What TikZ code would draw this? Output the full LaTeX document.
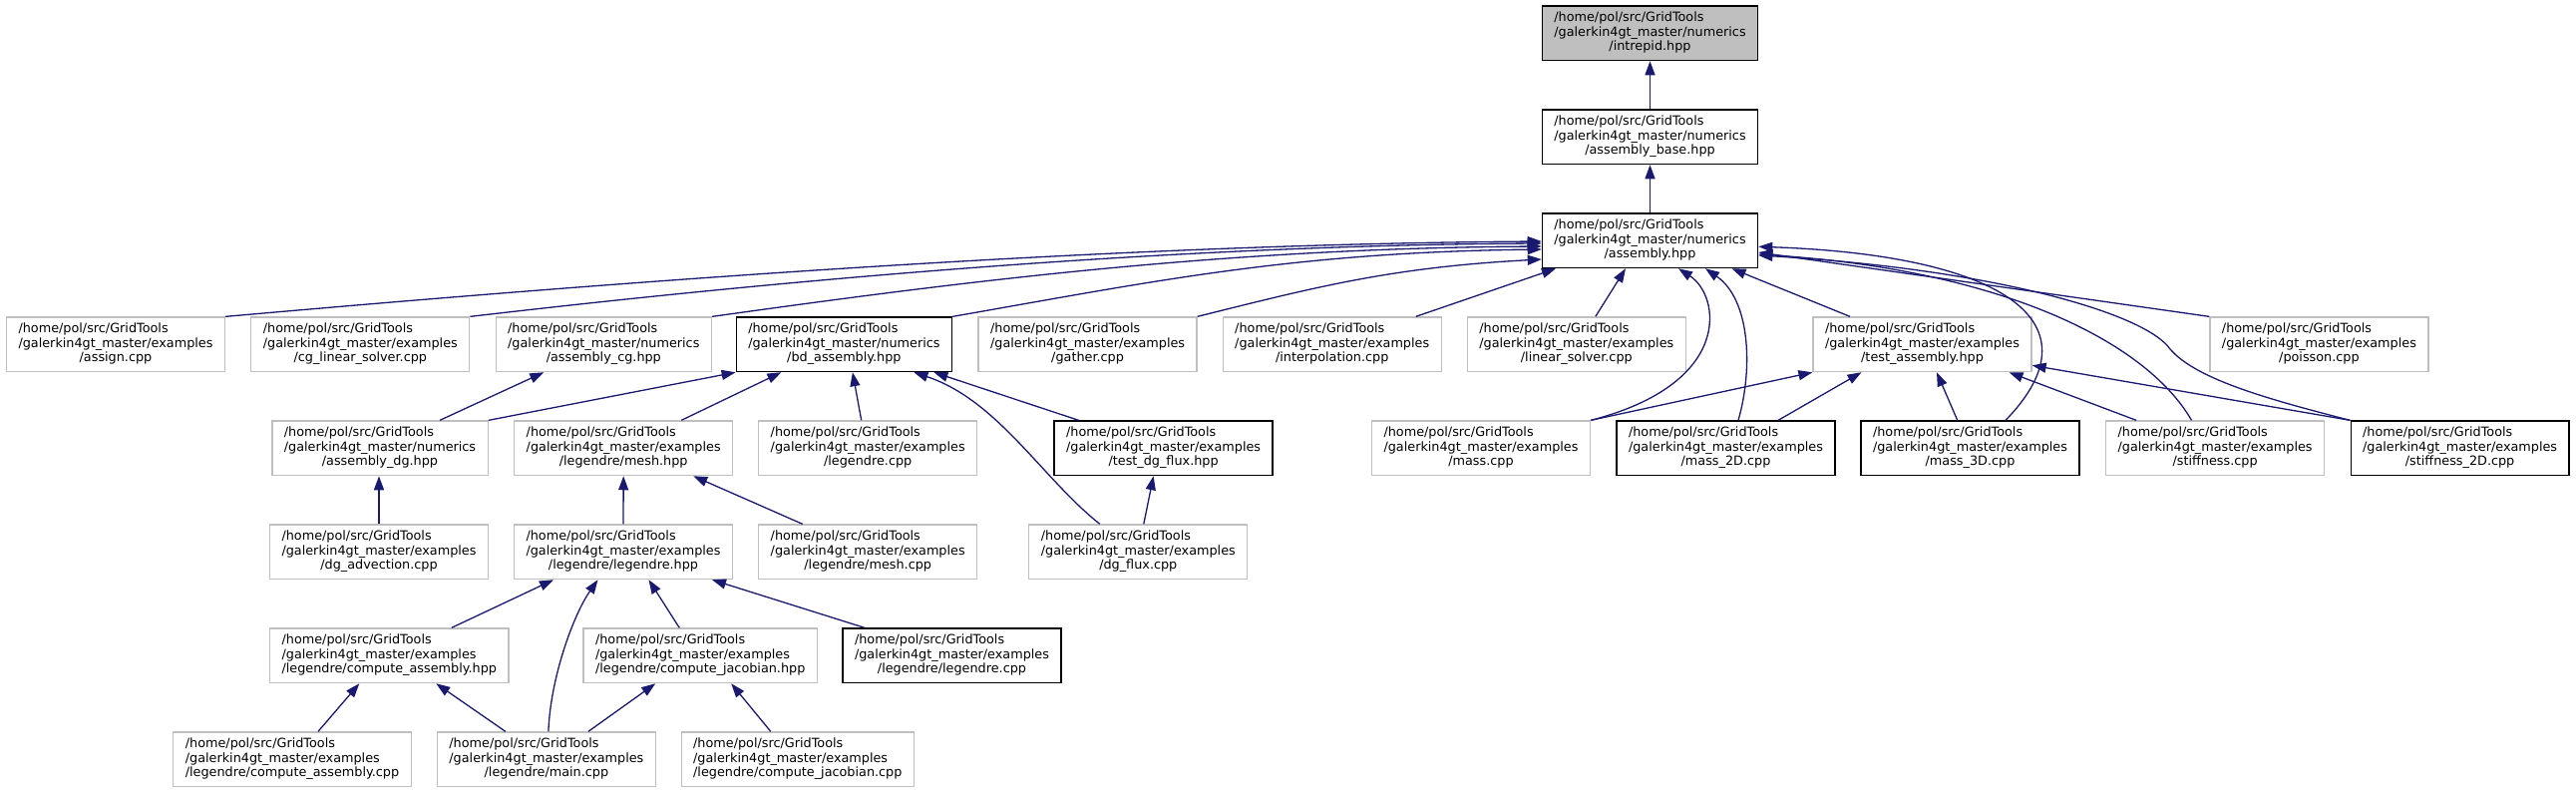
\documentclass[tikz,border=0pt]{standalone}
\usepackage{fontspec}
\setmainfont{DejaVu Sans}
\usepackage{tikz}
\usetikzlibrary{arrows.meta}
\definecolor{depblue}{RGB}{25, 25, 112}
\definecolor{filegray}{RGB}{191, 191, 191}

\newcommand{\filelabel}[2]{\begin{tabular}{@{}l@{}}/home/pol/src/GridTools\\/galerkin4gt\_master/#1\\\multicolumn{1}{@{}c@{}}{/#2}\end{tabular}}

\tikzset{
  file/.style={draw=filegray, line width=1.3pt, fill=white, inner xsep=12pt, inner ysep=0pt,
    minimum height=54.6pt, font=\fontsize{12.8pt}{14.5pt}\selectfont},
  docfile/.style={file, draw=black},
  rootfile/.style={docfile, fill=filegray},
  dep/.style={draw=depblue, line width=1.3pt, -{Triangle[length=14pt,width=10pt]}},
}

\begin{document}
\begin{tikzpicture}[x=1pt, y=-1pt]
  \useasboundingbox (0,0) rectangle (2583,795);
  % top chain
  \node[rootfile] (intrepid) at (1654.5,33.3) {\filelabel{numerics}{intrepid.hpp}};
  \node[docfile] (asmbase) at (1654.5,137.3) {\filelabel{numerics}{assembly\_base.hpp}};
  \node[docfile] (asm) at (1654.5,241.3) {\filelabel{numerics}{assembly.hpp}};
  % row 3
  \node[file] (assign) at (116,345.3) {\filelabel{examples}{assign.cpp}};
  \node[file] (cgls) at (361.3,345.3) {\filelabel{examples}{cg\_linear\_solver.cpp}};
  \node[file] (asmcg) at (605.3,345.3) {\filelabel{numerics}{assembly\_cg.hpp}};
  \node[docfile] (bdasm) at (846.4,345.3) {\filelabel{numerics}{bd\_assembly.hpp}};
  \node[file] (gather) at (1090.6,345.3) {\filelabel{examples}{gather.cpp}};
  \node[file] (interp) at (1335.7,345.3) {\filelabel{examples}{interpolation.cpp}};
  \node[file] (linsolv) at (1580.8,345.3) {\filelabel{examples}{linear\_solver.cpp}};
  \node[file] (testasm) at (1927.5,345.3) {\filelabel{examples}{test\_assembly.hpp}};
  \node[file] (poisson) at (2325.4,345.3) {\filelabel{examples}{poisson.cpp}};
  % row 4
  \node[file] (asmdg) at (381,449.3) {\filelabel{numerics}{assembly\_dg.hpp}};
  \node[file] (mesh) at (625.2,449.3) {\filelabel{examples}{legendre/mesh.hpp}};
  \node[file] (legcpp) at (870.2,449.3) {\filelabel{examples}{legendre.cpp}};
  \node[docfile] (testdg) at (1166.6,449.3) {\filelabel{examples}{test\_dg\_flux.hpp}};
  \node[file] (mass) at (1485,449.3) {\filelabel{examples}{mass.cpp}};
  \node[docfile] (mass2d) at (1730.5,449.3) {\filelabel{examples}{mass\_2D.cpp}};
  \node[docfile] (mass3d) at (1975.5,449.3) {\filelabel{examples}{mass\_3D.cpp}};
  \node[file] (stiff) at (2221.1,449.3) {\filelabel{examples}{stiffness.cpp}};
  \node[docfile] (stiff2d) at (2466.6,449.3) {\filelabel{examples}{stiffness\_2D.cpp}};
  % row 5
  \node[file] (dgadv) at (380,553.3) {\filelabel{examples}{dg\_advection.cpp}};
  \node[file] (leghpp) at (625,553.3) {\filelabel{examples}{legendre/legendre.hpp}};
  \node[file] (legmesh) at (870.2,553.3) {\filelabel{examples}{legendre/mesh.cpp}};
  \node[file] (dgflux) at (1141.3,553.3) {\filelabel{examples}{dg\_flux.cpp}};
  % row 6
  \node[file] (cahpp) at (390.3,657.3) {\filelabel{examples}{legendre/compute\_assembly.hpp}};
  \node[file] (cjhpp) at (702.2,657.3) {\filelabel{examples}{legendre/compute\_jacobian.hpp}};
  \node[docfile] (legleg) at (954.5,657.3) {\filelabel{examples}{legendre/legendre.cpp}};
  % row 7
  \node[file] (cacpp) at (293,761.3) {\filelabel{examples}{legendre/compute\_assembly.cpp}};
  \node[file] (main) at (547.9,761.3) {\filelabel{examples}{legendre/main.cpp}};
  \node[file] (cjcpp) at (799.8,761.3) {\filelabel{examples}{legendre/compute\_jacobian.cpp}};

  % includes of the top chain
  \draw[dep] (asmbase) -- (intrepid);
  \draw[dep] (asm) -- (asmbase);
  % row 3 -> assembly.hpp
  \draw[dep] (assign.north east) .. controls +(373,-33) and +(-446,3) .. ([yshift=-0.7pt]asm.west);
  \draw[dep] (cgls.north east) .. controls +(300,-35) and +(-380,2) .. ([yshift=-2.7pt]asm.west);
  \draw[dep] (asmcg.north east) .. controls +(250,-35) and +(-320,2) .. ([yshift=-5.7pt]asm.west);
  \draw[dep] (bdasm.north east) .. controls +(200,-35) and +(-250,3) .. ([yshift=-8.7pt]asm.west);
  \draw[dep] (gather.north east) .. controls +(120,-30) and +(-150,8) .. ([yshift=-18.7pt]asm.west);
  \draw[dep] ([xshift=84pt]interp.north) -- ([xshift=-94.5pt]asm.south);
  \draw[dep] ([xshift=19pt]linsolv.north) -- ([xshift=-24.5pt]asm.south);
  \draw[dep] ([xshift=-72.5pt]testasm.north) -- ([xshift=82pt]asm.south);
  \draw[dep] (poisson.north west) -- ([yshift=-11.7pt]asm.east);
  % row 4 -> assembly.hpp
  \draw[dep] (mass.north east) .. controls +(144,-37) and +(42,27) .. ([xshift=28.5pt]asm.south);
  \draw[dep] ([xshift=12.5pt]mass2d.north) .. controls +(15,-52) and +(45,31) .. ([xshift=55.5pt]asm.south);
  \draw[dep] ([xshift=35.5pt]mass3d.north) .. controls +(99,-102) and +(237,8) .. ([yshift=-6pt]asm.east);
  \draw[dep] ([xshift=-23.6pt]stiff.north) .. controls +(-47.5,-82) and +(237,15) .. ([yshift=-13.7pt]asm.east);
  \draw[dep] (stiff2d.north west) .. controls +(-86,-22) and +(25,30) .. ++(-181,-72)
    .. controls +(-25,-35) and +(237,14) .. ([yshift=-14.7pt]asm.east);
  % row 4 -> test_assembly.hpp
  \draw[dep] (mass.north east) -- (testasm.south west);
  \draw[dep] ([xshift=52.5pt]mass2d.north) -- ([xshift=-61pt]testasm.south);
  \draw[dep] ([xshift=-12.8pt]mass3d.north) -- ([xshift=14.5pt]testasm.south);
  \draw[dep] ([xshift=-79pt]stiff.north) -- ([xshift=87pt]testasm.south);
  \draw[dep] (stiff2d.north west) -- ([yshift=-21pt]testasm.east);
  % bd_assembly.hpp and assembly_cg.hpp
  \draw[dep] ([xshift=60pt]asmdg.north) -- ([xshift=-60pt]asmcg.south);
  \draw[dep] (asmdg.north east) -- (bdasm.south west);
  \draw[dep] ([xshift=58pt]mesh.north) -- ([xshift=-63pt]bdasm.south);
  \draw[dep] ([xshift=-6.5pt]legcpp.north) -- ([xshift=8.5pt]bdasm.south);
  \draw[dep] ([xshift=-38.5pt]dgflux.north) .. controls +(-58,-46) and +(84,28) .. ([xshift=70pt]bdasm.south);
  \draw[dep] ([xshift=-85pt]testdg.north) -- ([xshift=90pt]bdasm.south);
  \draw[dep] ([xshift=5.5pt]dgflux.north) -- ([xshift=-10pt]testdg.south);
  % legendre tree
  \draw[dep] (dgadv.north) -- (dgadv.north |- asmdg.south);
  \draw[dep] (leghpp.north) -- (mesh.south);
  \draw[dep] ([xshift=-65.5pt]legmesh.north) -- ([xshift=70pt]mesh.south);
  \draw[dep] ([xshift=62.5pt]cahpp.north) -- ([xshift=-70pt]leghpp.south);
  \draw[dep] ([xshift=-21pt]cjhpp.north) -- ([xshift=25.5pt]leghpp.south);
  \draw[dep] ([xshift=-87.5pt]legleg.north) -- ([xshift=89pt]leghpp.south);
  \draw[dep] ([xshift=2pt]main.north) .. controls +(2,-54) and +(-24.5,35) .. ([xshift=-25.5pt]leghpp.south);
  \draw[dep] ([xshift=26pt]cacpp.north) -- ([xshift=-30pt]cahpp.south);
  \draw[dep] ([xshift=-41pt]main.north) -- ([xshift=47pt]cahpp.south);
  \draw[dep] ([xshift=42pt]main.north) -- ([xshift=-45pt]cjhpp.south);
  \draw[dep] ([xshift=-27pt]cjcpp.north) -- ([xshift=31pt]cjhpp.south);
\end{tikzpicture}
\end{document}
